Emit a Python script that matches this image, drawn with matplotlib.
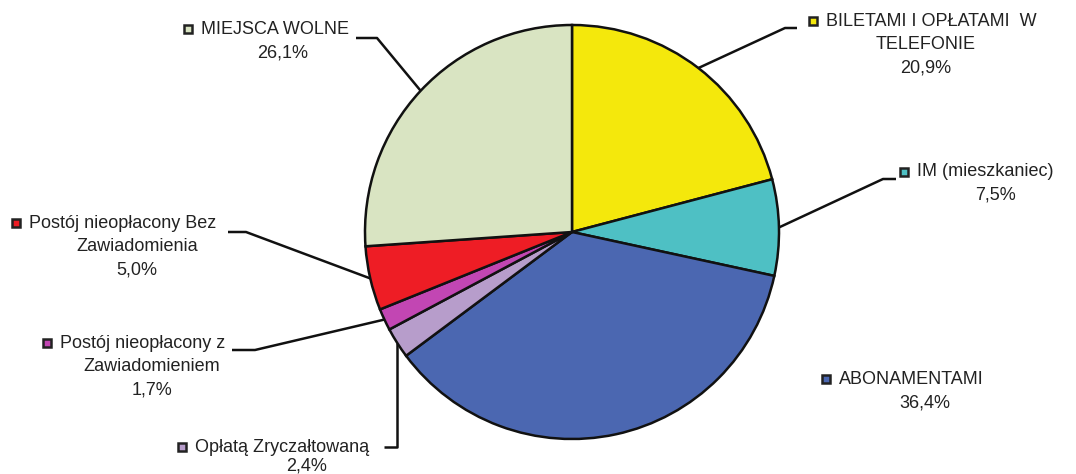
import numpy as np
import matplotlib
matplotlib.use("Agg")
import matplotlib.pyplot as plt

# slices, clockwise from 12 o'clock
labels = ["BILETAMI I OPŁATAMI  W\nTELEFONIE", "IM (mieszkaniec)", "ABONAMENTAMI",
          "Opłatą Zryczałtowaną", "Postój nieopłacony z\nZawiadomieniem",
          "Postój nieopłacony Bez\nZawiadomienia", "MIEJSCA WOLNE"]
values = [20.9, 7.5, 36.4, 2.4, 1.7, 5.0, 26.1]
pct_text = ["20,9%", "7,5%", "36,4%", "2,4%", "1,7%", "5,0%", "26,1%"]
colors = ["#F4E80C", "#4EC0C4", "#4B67B1", "#B79DCB", "#C246B3", "#EE1D25", "#D9E4C2"]

# label layout (pixel coords, y down): marker x, first line y, centre x of following lines
label_pos = [(813, 21, 926), (904, 172, 995), (826, 379, 925), (182, 447, 307),
             (47, 343, 152), (16, 223, 137), (188, 29, 283)]
line_gap = [23.5, 23.5, 23.5, 19, 23.5, 23.5, 23.5]
# leader elbow and end points (None = no leader)
leaders = [((785, 28), (797, 28)), ((883, 179), (896, 179)), None,
           ((398, 447), (384, 447)), ((255, 350), (232, 350)),
           ((246, 232), (228, 232)), ((377, 38), (356, 38))]

cx, cy, r = 572, 232, 207

fig = plt.figure(figsize=(10.76, 4.74), dpi=100)
ax = fig.add_axes([0, 0, 1, 1])
wedges, _ = ax.pie(values, colors=colors, startangle=-90, counterclock=True,
                   center=(cx, cy), radius=r,
                   wedgeprops=dict(edgecolor="#111111", linewidth=1.8))
ax.set_xlim(0, 1076)
ax.set_ylim(474, 0)
ax.set_aspect("equal")
ax.axis("off")

font = "Liberation Sans"
fs = 13
for w, lab, pct, col, pos, gap, ld in zip(wedges, labels, pct_text, colors,
                                          label_pos, line_gap, leaders):
    mx, ty, c2 = pos
    lines = lab.split("\n") + [pct]
    ax.text(mx + 13, ty, lines[0], ha="left", va="center", fontsize=fs,
            family=font, color="#222222")
    for i in range(1, len(lines)):
        ax.text(c2, ty + gap * i, lines[i], ha="center", va="center",
                fontsize=fs, family=font, color="#222222")
    ax.plot(mx, ty, marker="s", markersize=6, markerfacecolor=col,
            markeredgecolor="#222222", markeredgewidth=1.8)
    if ld is not None:
        mid = np.deg2rad((w.theta1 + w.theta2) / 2)
        px, py = cx + r * np.cos(mid), cy + r * np.sin(mid)
        (ex, ey), (fx, fy) = ld
        if abs(ex - px) < 3:
            ex = px
        ax.plot([px, ex, fx], [py, ey, fy], color="#111111", lw=1.8,
                solid_capstyle="butt", zorder=0.5)

fig.savefig("out.png", dpi=100)
